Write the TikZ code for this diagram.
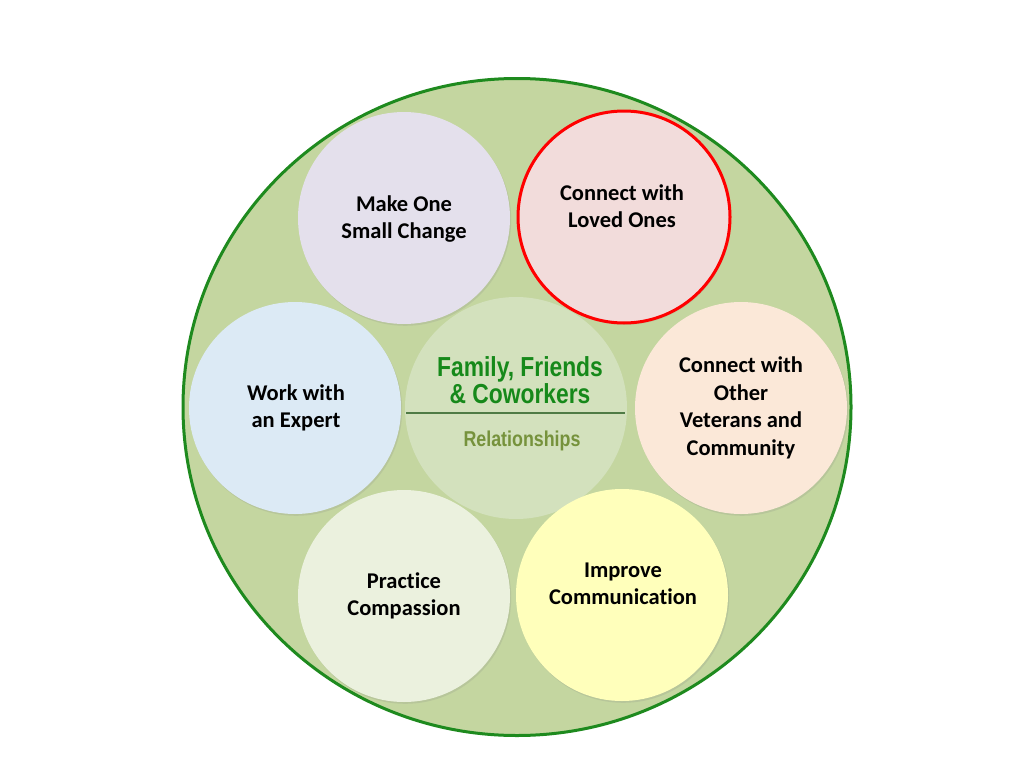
\documentclass[tikz,border=0pt]{standalone}
\usepackage{fontspec}
\setmainfont{Carlito}[Ligatures=NoCommon]
\newfontfamily\narrowfont[FakeStretch=0.83]{Liberation Sans}
\usetikzlibrary{shadows}

\definecolor{ringfill}{HTML}{C4D6A0}
\definecolor{ringline}{HTML}{1E8A1E}
\definecolor{hubfill}{HTML}{D3E1BD}
\definecolor{lavender}{HTML}{E4E0EC}
\definecolor{rosefill}{HTML}{F2DCDB}
\definecolor{skyfill}{HTML}{DCEAF5}
\definecolor{peachfill}{HTML}{FBE8D8}
\definecolor{sagefill}{HTML}{EBF1DE}
\definecolor{lemonfill}{HTML}{FFFFBB}
\definecolor{titlegreen}{HTML}{16891A}
\definecolor{subolive}{HTML}{76923C}
\definecolor{rulegreen}{HTML}{4F7B45}

\tikzset{
  bubble/.style={circle, minimum size=212pt, inner sep=0pt,
    drop shadow={opacity=0.18, shadow xshift=1.2pt, shadow yshift=-1.8pt}},
  bubbletext/.style={align=center, font=\bfseries\fontsize{22.5}{27.5}\selectfont}
}

\begin{document}
\begin{tikzpicture}[x=1pt,y=-1pt]
\useasboundingbox (0,0) rectangle (1024,768);
% outer ring
\filldraw[fill=ringfill, draw=ringline, line width=3pt] (517,407) ellipse (334 and 328.5);
% hub
\node[circle, minimum size=222pt, fill=hubfill] (hub) at (516,408) {};
\node[font=\narrowfont\bfseries\fontsize{27.5}{27}\selectfont, text=titlegreen, align=center] (title) at (520,380) {Family, Friends\\\& Coworkers};
\coordinate (rule l) at (406,413);
\coordinate (rule r) at (625,413);
\draw[rulegreen, line width=2pt] (rule l) -- (rule r);
\node[font=\narrowfont\bfseries\fontsize{21.5}{22}\selectfont, text=subolive] (sub) at (522,441) {Relationships};
% satellites
\node[bubble, fill=lavender] (change) at (404,218) {};
\node[bubbletext] at (404,219) {Make One\\Small Change};
\node[bubble, fill=rosefill, draw=red, line width=3pt] (loved) at (624,217) {};
\node[bubbletext] at (622,206) {Connect with\\Loved Ones};
\node[bubble, fill=skyfill] (expert) at (295,408) {};
\node[bubbletext] at (296,408) {Work with\\an Expert};
\node[bubble, fill=peachfill] (veterans) at (741,408) {};
\node[bubbletext] at (741,408) {Connect with\\Other\\Veterans and\\Community};
\node[bubble, fill=sagefill] (compassion) at (404,596) {};
\node[bubbletext] at (404,596) {Practice\\Compassion};
\node[bubble, fill=lemonfill] (communication) at (622,595) {};
\node[bubbletext] at (623,584) {Improve\\Communication};
\end{tikzpicture}
\end{document}
